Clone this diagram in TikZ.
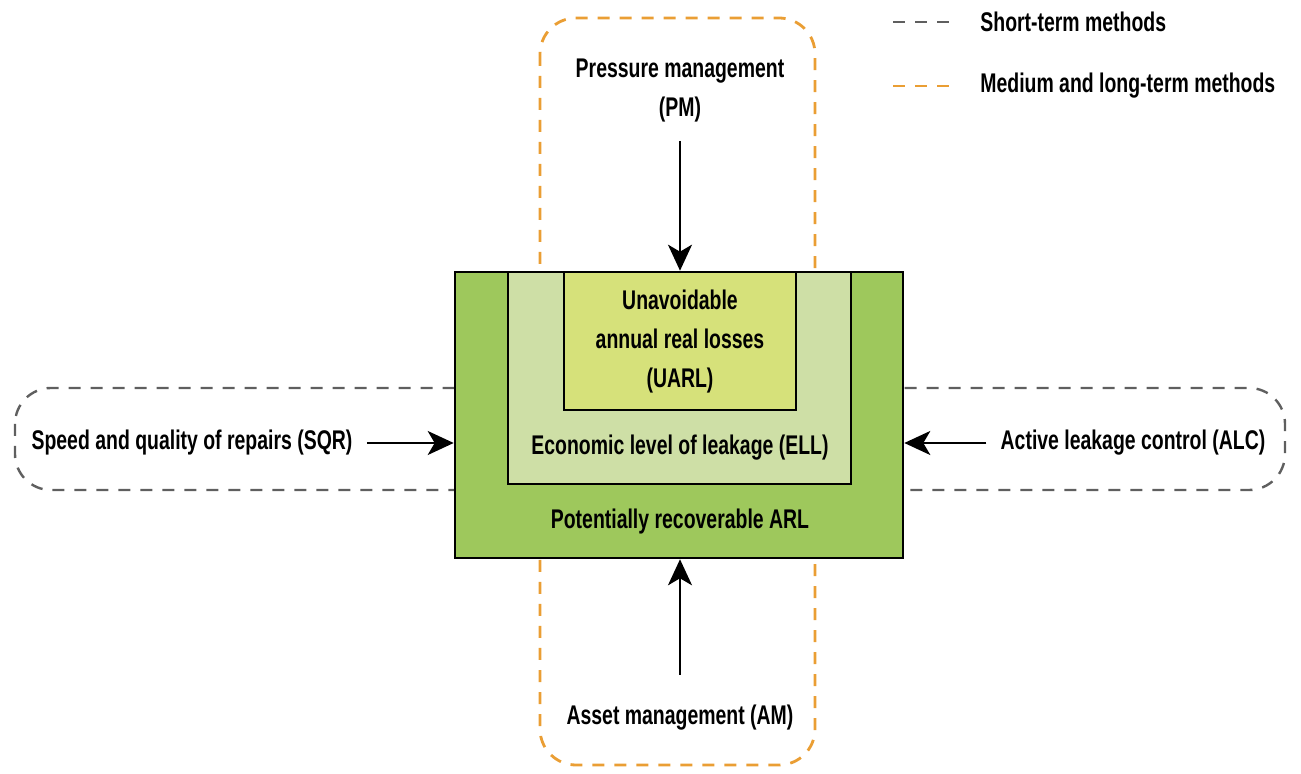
\documentclass[tikz,border=0pt]{standalone}
\usepackage{fontspec}
\setmainfont{Liberation Sans}[FakeStretch=0.72]
\usepackage{tikz}
\usetikzlibrary{positioning}
\usetikzlibrary{arrows.meta}
\definecolor{arlgreen}{RGB}{158,200,92}
\definecolor{ellgreen}{RGB}{206,223,166}
\definecolor{uarlyellow}{RGB}{214,225,122}
\definecolor{longorange}{RGB}{234,158,52}
\definecolor{shortgray}{RGB}{95,95,95}
\tikzset{
  lossbox/.style = {draw = black, line width = 1.3pt, rectangle, inner sep = 0pt},
  methodtext/.style = {font = \bfseries\fontsize{13.5}{19.5}\selectfont, align = center, inner sep = 1pt},
  pusharrow/.style = {line width = 1.2pt, -{Stealth[length = 13pt, width = 12pt, inset = 3.5pt]}},
  shortline/.style = {draw = shortgray, line width = 1.2pt, dash pattern = on 6pt off 5pt},
  longline/.style = {draw = longorange, line width = 1.4pt, dash pattern = on 6pt off 5pt}
}

\begin{document}
\begin{tikzpicture}[x = 0.5pt, y = -0.5pt]
                \useasboundingbox (0,0) rectangle (1301,774);
                % dashed method regions, the loss boxes sit on top of them
                \draw [longline, rounded corners = 18pt] (540,18) rectangle (815,765);
                \draw [shortline, rounded corners = 18pt] (15,388) rectangle (1285,490);
                % water loss boxes
                \node [lossbox, fill = arlgreen, minimum width = 224pt, minimum height = 143pt] (arl) at (679,415) {};
                \node [lossbox, fill = ellgreen, minimum width = 171.5pt, minimum height = 106pt] (ell) at (679.5,378) {};
                \node [lossbox, fill = uarlyellow, minimum width = 116pt, minimum height = 69pt] (uarl) at (680,341) {};
                \node [methodtext] (uarltext) at (680,342) {Unavoidable\\ annual real losses\\ (UARL)};
                \node [methodtext] (elltext) at (680,448) {Economic level of leakage (ELL)};
                \node [methodtext] (arltext) at (680,522) {Potentially recoverable ARL};
                % methods
                \node [methodtext] (pm) at (680,91) {Pressure management\\ (PM)};
                \node [methodtext] (am) at (680,718) {Asset management (AM)};
                \node [methodtext] (sqr) at (192,443) {Speed and quality of repairs (SQR)};
                \node [methodtext] (alc) at (1133,443) {Active leakage control (ALC)};
                \draw [pusharrow, shorten < = 8pt] (pm) -- (pm |- arl.north);
                \draw [pusharrow, shorten < = 14pt] (am) -- (am |- arl.south);
                \draw [pusharrow, shorten < = 6pt] (sqr) -- (sqr -| arl.west);
                \draw [pusharrow, shorten < = 6pt] (alc) -- (alc -| arl.east);
                % legend
                \coordinate (shortstart) at (893,22);
                \coordinate (longstart) at (893,86);
                \node [methodtext, anchor = west] (shortkey) at (978,22) {Short-term methods};
                \node [methodtext, anchor = west] (longkey) at (978,86) {Medium and long-term methods};
                \draw [shortline] (shortstart) -- +(60,0);
                \draw [longline] (longstart) -- +(60,0);
              \end{tikzpicture}
\end{document}
